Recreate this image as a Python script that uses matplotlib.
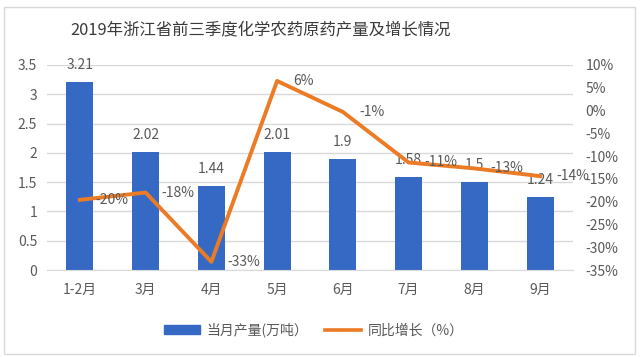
import matplotlib
matplotlib.use("Agg")
import matplotlib.pyplot as plt
from matplotlib.lines import Line2D
from matplotlib.patches import Patch, Rectangle

plt.rcParams['font.family'] = ['Noto Sans CJK SC', 'DejaVu Sans']

# data
months = ["1-2月", "3月", "4月", "5月", "6月", "7月", "8月", "9月"]
output = [3.21, 2.02, 1.44, 2.01, 1.9, 1.58, 1.5, 1.24]
growth = [-19.6, -18, -33.2, 6.5, -0.3, -11.4, -12.7, -14.4]
growth_labels = ["-20%", "-18%", "-33%", "6%", "-1%", "-11%", "-13%", "-14%"]

BLUE = "#3569C4"
ORANGE = "#EB7B25"
TEXT = "#595959"
GRID = "#D9D9D9"

fig = plt.figure(figsize=(6.4, 3.57), dpi=100)
fig.patch.set_facecolor("white")
fig.patches.append(Rectangle((0.006, 0.008), 0.986, 0.972, transform=fig.transFigure,
                             fill=False, edgecolor=GRID, linewidth=1))

ax = fig.add_axes([47 / 640, 1 - 270 / 357, 526 / 640, 205 / 357])
ax2 = ax.twinx()

x = range(len(months))
ax.bar(x, output, width=0.41, color=BLUE, zorder=2)
ax.set_ylim(0, 3.5)
ax.set_yticks([0, 0.5, 1, 1.5, 2, 2.5, 3, 3.5])
ax.set_yticklabels(["0", "0.5", "1", "1.5", "2", "2.5", "3", "3.5"])
ax.set_xlim(-0.5, len(months) - 0.5)
ax.set_xticks(list(x))
ax.set_xticklabels(months)
ax.grid(axis="y", color=GRID, linewidth=1, zorder=0)
ax.set_axisbelow(True)

for i, v in enumerate(output):
    ax.annotate(f"{v:g}", (i, v), xytext=(0, 17), textcoords="offset pixels",
                ha="center", va="center", fontsize=10, color=TEXT)

ax2.plot(x, growth, color=ORANGE, linewidth=2.8, solid_joinstyle="round", zorder=3)
ax2.set_ylim(-35, 10)
ax2.set_yticks(range(-35, 11, 5))
ax2.set_yticklabels([f"{t}%" for t in range(-35, 11, 5)])
for i, (v, lab) in enumerate(zip(growth, growth_labels)):
    ax2.annotate(lab, (i, v), xytext=(16, 0), textcoords="offset pixels",
                 ha="left", va="center", fontsize=10, color=TEXT)

for a in (ax, ax2):
    for s in a.spines.values():
        s.set_visible(False)
    a.tick_params(length=0, labelsize=10, colors=TEXT)
ax.spines["bottom"].set_visible(True)
ax.spines["bottom"].set_color(GRID)
ax.tick_params(axis="x", pad=9)
ax.tick_params(axis="y", pad=7)
ax2.tick_params(axis="y", pad=9)

fig.text(261 / 640, 1 - 31 / 357, "2019年浙江省前三季度化学农药原药产量及增长情况",
         ha="center", va="center", fontsize=11.8, color="#3A3A3A")

handles = [Patch(facecolor=BLUE, edgecolor=BLUE),
           Line2D([0], [0], color=ORANGE, linewidth=2.6)]
fig.legend(handles, ["当月产量(万吨）", "同比增长（%）"], loc="center",
           bbox_to_anchor=(314 / 640, 1 - 330 / 357), ncol=2, frameon=False,
           fontsize=10, labelcolor=TEXT, handlelength=2.6, handleheight=0.6,
           columnspacing=1.2, handletextpad=0.5)

fig.savefig("out.png", dpi=100)
